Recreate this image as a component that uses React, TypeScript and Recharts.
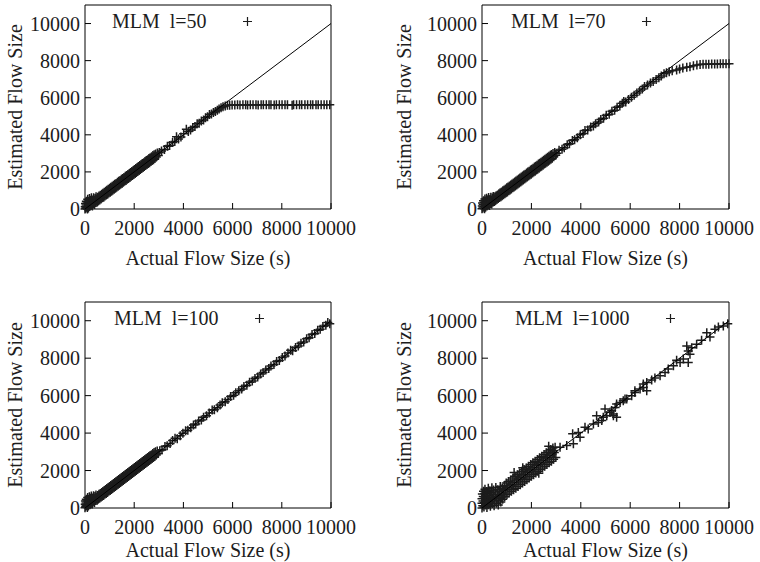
import { Legend, Scatter, ScatterChart, XAxis, YAxis } from 'recharts';

type Pt = [number, number];

const SERIF = 'Liberation Serif, Times New Roman, serif';
const INK = '#1c1c1c';

const axisTicks = [0, 2000, 4000, 6000, 8000, 10000];
const diagonal: Pt[] = [[0, 0], [10000, 10000]];

// MLM l=50: follows the diagonal, then saturates near 5600
const l50Points: Pt[] = [
  [0, 0], [10, 120], [20, 300], [30, 40], [45, 210], [55, 420], [70, 90], [85, 330], [100, 0], [110, 520],
  [125, 200], [140, 60], [150, 400], [165, 260], [180, 560], [195, 130], [210, 340], [230, 470], [245, 220], [260, 600],
  [280, 330], [300, 160], [315, 480], [335, 270], [350, 610], [370, 380], [390, 240], [410, 560], [430, 350], [450, 660],
  [470, 440], [500, 380], [520, 640], [545, 450], [570, 700], [600, 490], [625, 740], [650, 540], [680, 800], [705, 600],
  [730, 850], [760, 640], [785, 900], [810, 700], [840, 960], [865, 750], [890, 1010], [920, 800], [945, 1060], [970, 860],
  [1000, 1120], [1025, 900], [1050, 1170], [1080, 960], [1105, 1220], [1130, 1010], [1160, 1280], [1185, 1060], [1210, 1330], [1240, 1120],
  [1265, 1380], [1290, 1170], [1320, 1440], [1345, 1220], [1370, 1490], [1400, 1280], [1425, 1540], [1450, 1330], [1480, 1600], [1505, 1380],
  [1530, 1650], [1560, 1440], [1585, 1700], [1610, 1490], [1640, 1760], [1665, 1540], [1690, 1810], [1720, 1600], [1745, 1860], [1770, 1650],
  [1800, 1920], [1825, 1700], [1850, 1970], [1880, 1760], [1905, 2020], [1930, 1810], [1960, 2080], [1985, 1860], [2010, 2130], [2040, 1920],
  [2065, 2180], [2090, 1970], [2120, 2240], [2145, 2020], [2170, 2290], [2200, 2080], [2225, 2340], [2250, 2130], [2280, 2400], [2305, 2180],
  [2330, 2450], [2360, 2240], [2385, 2500], [2410, 2290], [2440, 2560], [2465, 2340], [2490, 2610], [2520, 2400], [2545, 2660], [2570, 2450],
  [2600, 2720], [2625, 2500], [2650, 2770], [2680, 2560], [2705, 2820], [2730, 2610], [2760, 2880], [2785, 2660], [2810, 2920], [2840, 2720],
  [2870, 2970], [2900, 2800], [2940, 3020], [2980, 2880],
  [3020, 3050], [3110, 3130], [3230, 3210], [3350, 3390], [3440, 3420], [3560, 3580], [3650, 3640], [3720, 3900], [3800, 3770], [3900, 3880],
  [4010, 4060], [4120, 4300], [4200, 4180], [4290, 4260], [4380, 4400], [4470, 4450], [4560, 4600], [4640, 4620], [4730, 4740], [4820, 4800],
  [4900, 4920], [4980, 4970], [5060, 5090], [5140, 5120], [5220, 5200], [5300, 5260], [5380, 5330], [5450, 5390], [5530, 5460], [5610, 5510],
  [5700, 5560], [5790, 5590], [5880, 5600], [5980, 5610], [6090, 5605], [6200, 5615], [6300, 5610], [6420, 5620], [6530, 5615], [6610, 5610],
  [6720, 5620], [6830, 5615], [6950, 5620], [7040, 5610], [7160, 5620], [7250, 5615], [7370, 5620], [7480, 5615], [7560, 5620], [7690, 5610],
  [7780, 5620], [7900, 5615], [8010, 5620], [8130, 5615], [8230, 5620], [8420, 5600], [8480, 5615], [8600, 5620], [8720, 5615], [8810, 5620],
  [8940, 5615], [9050, 5620], [9170, 5615], [9260, 5620], [9390, 5615], [9480, 5620], [9600, 5615], [9720, 5620], [9830, 5615], [9950, 5620],
];

// MLM l=70: saturates near 7830
const l70Points: Pt[] = [
  [0, 20], [12, 160], [22, 330], [35, 60], [48, 240], [60, 450], [75, 120], [90, 360], [105, 20], [118, 540],
  [130, 230], [145, 90], [158, 430], [172, 290], [185, 580], [200, 160], [218, 370], [235, 500], [250, 250], [268, 620],
  [285, 360], [305, 190], [320, 510], [340, 300], [358, 640], [375, 410], [395, 270], [415, 590], [435, 380], [455, 680],
  [475, 470], [505, 400], [525, 660], [550, 470], [575, 720], [605, 510], [630, 760], [655, 560], [685, 820], [710, 620],
  [735, 870], [765, 660], [790, 920], [815, 720], [845, 980], [870, 770], [895, 1030], [925, 820], [950, 1080], [975, 880],
  [1005, 1140], [1030, 920], [1055, 1190], [1085, 980], [1110, 1240], [1135, 1030], [1165, 1300], [1190, 1080], [1215, 1350], [1245, 1140],
  [1270, 1400], [1295, 1190], [1325, 1460], [1350, 1240], [1375, 1510], [1405, 1300], [1430, 1560], [1455, 1350], [1485, 1620], [1510, 1400],
  [1535, 1670], [1565, 1460], [1590, 1720], [1615, 1510], [1645, 1780], [1670, 1560], [1695, 1830], [1725, 1620], [1750, 1880], [1775, 1670],
  [1805, 1940], [1830, 1720], [1855, 1990], [1885, 1780], [1910, 2040], [1935, 1830], [1965, 2100], [1990, 1880], [2015, 2150], [2045, 1940],
  [2070, 2200], [2095, 1990], [2125, 2260], [2150, 2040], [2175, 2310], [2205, 2100], [2230, 2360], [2255, 2150], [2285, 2420], [2310, 2200],
  [2335, 2470], [2365, 2260], [2390, 2520], [2415, 2310], [2445, 2580], [2470, 2360], [2495, 2630], [2525, 2420], [2550, 2680], [2575, 2470],
  [2605, 2740], [2630, 2520], [2655, 2790], [2685, 2580], [2710, 2840], [2735, 2630], [2765, 2900], [2790, 2680], [2815, 2940], [2845, 2740],
  [2875, 2990], [2905, 2820], [2945, 3040], [2985, 2900],
  [3030, 3010], [3120, 3170], [3240, 3220], [3330, 3300], [3450, 3470], [3540, 3520], [3660, 3700], [3750, 3730], [3860, 3840], [3980, 4010],
  [4090, 4070], [4170, 4230], [4280, 4260], [4400, 4420], [4510, 4480], [4600, 4600], [4720, 4690], [4810, 4820], [4920, 4900], [5030, 5050],
  [5150, 5110], [5260, 5270], [5370, 5330], [5470, 5480], [5580, 5560], [5680, 5700], [5740, 5800], [5820, 5770], [5930, 5900], [6050, 6030],
  [6160, 6140], [6270, 6250], [6380, 6360], [6490, 6470], [6580, 6600], [6700, 6680], [6820, 6790], [6930, 6880], [7050, 6980], [7160, 7080],
  [7260, 7170], [7370, 7290], [7470, 7350], [7580, 7400], [7700, 7450], [7880, 7490], [8000, 7550], [8130, 7600], [8290, 7640], [8420, 7670],
  [8560, 7720], [8700, 7760], [8830, 7790], [8950, 7800], [9070, 7810], [9180, 7810], [9300, 7820], [9420, 7820], [9530, 7820], [9650, 7830],
  [9760, 7830], [9880, 7830], [10000, 7830],
];

// MLM l=100: stays on the diagonal
const l100Points: Pt[] = [
  [0, 10], [8, 200], [18, 380], [28, 90], [42, 270], [52, 470], [66, 140], [80, 380], [96, 30], [108, 560],
  [122, 250], [136, 110], [150, 450], [163, 310], [178, 600], [192, 170], [208, 390], [226, 520], [242, 270], [258, 640],
  [276, 380], [296, 210], [312, 530], [330, 320], [348, 660], [366, 430], [386, 290], [406, 610], [426, 400], [446, 690],
  [466, 490], [495, 410], [518, 670], [542, 480], [568, 730], [596, 520], [622, 770], [648, 570], [676, 830], [702, 630],
  [728, 880], [756, 670], [782, 930], [808, 730], [836, 990], [862, 780], [888, 1040], [916, 830], [942, 1090], [968, 890],
  [996, 1150], [1022, 930], [1048, 1200], [1076, 990], [1102, 1250], [1128, 1040], [1156, 1310], [1182, 1090], [1208, 1360], [1236, 1150],
  [1262, 1410], [1288, 1200], [1316, 1470], [1342, 1250], [1368, 1520], [1396, 1310], [1422, 1570], [1448, 1360], [1476, 1630], [1502, 1410],
  [1528, 1680], [1556, 1470], [1582, 1730], [1608, 1520], [1636, 1790], [1662, 1570], [1688, 1840], [1716, 1630], [1742, 1890], [1768, 1680],
  [1796, 1950], [1822, 1730], [1848, 2000], [1876, 1790], [1902, 2050], [1928, 1840], [1956, 2110], [1982, 1890], [2008, 2160], [2036, 1950],
  [2062, 2210], [2088, 2000], [2116, 2270], [2142, 2050], [2168, 2320], [2196, 2110], [2222, 2370], [2248, 2160], [2276, 2430], [2302, 2210],
  [2328, 2480], [2356, 2270], [2382, 2530], [2408, 2320], [2436, 2590], [2462, 2370], [2488, 2640], [2516, 2430], [2542, 2690], [2568, 2480],
  [2596, 2750], [2622, 2530], [2648, 2800], [2676, 2590], [2702, 2850], [2728, 2640], [2756, 2910], [2782, 2690], [2808, 2960], [2836, 2750],
  [2866, 3000], [2896, 2830], [2936, 3050], [2976, 2910],
  [3040, 3060], [3130, 3110], [3250, 3290], [3340, 3320], [3460, 3440], [3560, 3600], [3660, 3720], [3750, 3700], [3870, 3860], [3980, 3990],
  [4090, 4120], [4180, 4150], [4300, 4290], [4410, 4430], [4500, 4480], [4620, 4640], [4730, 4700], [4820, 4840], [4940, 4920], [5050, 5070],
  [5170, 5230], [5260, 5240], [5380, 5350], [5490, 5500], [5580, 5620], [5700, 5680], [5810, 5790], [5920, 5950], [6040, 6020], [6130, 6160],
  [6250, 6260], [6370, 6350], [6460, 6490], [6580, 6560], [6690, 6720], [6800, 6780], [6910, 6920], [7020, 7000], [7140, 7160], [7240, 7230],
  [7350, 7370], [7470, 7450], [7560, 7580], [7680, 7660], [7790, 7820], [7900, 7880], [8020, 8040], [8130, 8110], [8250, 8280], [8360, 8420],
  [8440, 8400], [8560, 8570], [8670, 8650], [8780, 8800], [8890, 8870], [9010, 9040], [9110, 9090], [9230, 9260], [9340, 9320], [9460, 9490],
  [9560, 9540], [9670, 9690], [9790, 9760], [9870, 9900], [9950, 9840],
];

// MLM l=1000: on the diagonal but with a much wider spread
const l1000Points: Pt[] = [
  [0, 0], [0, 250], [0, 500], [15, 750], [30, 120], [40, 380], [50, 620], [60, 900], [80, 60], [90, 280],
  [100, 520], [110, 780], [120, 1000], [140, 160], [150, 420], [165, 660], [180, 880], [200, 30], [210, 300], [225, 560],
  [240, 800], [255, 1050], [270, 180], [285, 440], [300, 680], [320, 920], [340, 90], [350, 330], [370, 580], [385, 820],
  [400, 1080], [420, 240], [440, 480], [455, 720], [470, 960], [490, 120], [510, 380], [530, 620], [545, 860], [560, 1100],
  [580, 260], [600, 500], [620, 740], [640, 980], [660, 160], [680, 420], [700, 660], [720, 900], [740, 1150], [760, 320],
  [780, 560], [800, 800], [820, 1050], [840, 470], [860, 700], [880, 940], [900, 1200],
  [920, 600], [950, 1000], [980, 1330], [1010, 720], [1040, 1080], [1070, 1420], [1100, 800], [1130, 1170], [1160, 1500], [1190, 890],
  [1220, 1260], [1250, 1600], [1280, 980], [1300, 1900], [1310, 1350], [1340, 1690], [1370, 1060], [1400, 1440], [1430, 1780], [1460, 1150],
  [1490, 1530], [1520, 1870], [1550, 1240], [1580, 1620], [1610, 1960], [1640, 1330], [1650, 2150], [1670, 1710], [1700, 2050], [1730, 1420],
  [1760, 1800], [1790, 2140], [1820, 1510], [1850, 1890], [1880, 2230], [1910, 1600], [1940, 1980], [1970, 2320], [2000, 1690], [2030, 2070],
  [2060, 2410], [2090, 1780], [2120, 2160], [2150, 2500], [2180, 1870], [2210, 2250], [2240, 2590], [2270, 1960], [2300, 1850], [2300, 2340],
  [2330, 2680], [2360, 2050], [2390, 2430], [2420, 2770], [2450, 2140], [2480, 2520], [2510, 2860], [2540, 2230], [2570, 2610], [2600, 2950],
  [2630, 2320], [2660, 2700], [2690, 3040], [2700, 3300], [2720, 2410], [2750, 2790], [2780, 3130], [2810, 2500], [2840, 2880], [2870, 3200],
  [2900, 2600], [2930, 2970], [2960, 3250], [2990, 2700],
  [2890, 3070], [3160, 3250], [3430, 3340], [3670, 3960], [3700, 3430], [3900, 4030], [3970, 3780], [4170, 4310], [4300, 4220], [4510, 4490],
  [4640, 4930], [4710, 4570], [4850, 4670], [4910, 4840], [4980, 5290], [5050, 4930], [5180, 5110], [5250, 5200], [5320, 5020], [5320, 4930],
  [5390, 5370], [5450, 5550], [5450, 4840], [5590, 5640], [5720, 5730], [5790, 5820], [5860, 5820], [6060, 6000], [6190, 6170], [6190, 6260],
  [6400, 6350], [6530, 6440], [6530, 6620], [6670, 6260], [6670, 6700], [6870, 6830], [7000, 6940], [7210, 7060], [7410, 7230], [7540, 7420],
  [7750, 7590], [7880, 7890], [8020, 7770], [8150, 7950], [8290, 8650], [8350, 8390], [8350, 7770], [8420, 8210], [8490, 8560], [8690, 8750],
  [8890, 8960], [9100, 9360], [9230, 9130], [9430, 9540], [9570, 9670], [9770, 9720], [9950, 9840],
];

type PanelSpec = {
  title: string;
  points: Pt[];
  left: number;
  top: number;
  height: number;
  marginTop: number;
  marginRight: number;
  yAxisWidth: number;
  xAxisHeight: number;
  yTitleX: number;
  xTitleGap: number;
  keyLeft: number;
  keyTop: number;
};

const panels: PanelSpec[] = [
  { title: 'MLM  l=50', points: l50Points, left: 0, top: 0, height: 269, marginTop: 4, marginRight: 48, yAxisWidth: 85, xAxisHeight: 60, yTitleX: 15, xTitleGap: 49, keyLeft: 112, keyTop: 11 },
  { title: 'MLM  l=70', points: l70Points, left: 380, top: 0, height: 269, marginTop: 4, marginRight: 30, yAxisWidth: 102, xAxisHeight: 60, yTitleX: 24, xTitleGap: 49, keyLeft: 131, keyTop: 11 },
  { title: 'MLM  l=100', points: l100Points, left: 0, top: 280, height: 282, marginTop: 21, marginRight: 48, yAxisWidth: 85, xAxisHeight: 54, yTitleX: 15, xTitleGap: 42, keyLeft: 114, keyTop: 28 },
  { title: 'MLM  l=1000', points: l1000Points, left: 380, top: 280, height: 282, marginTop: 21, marginRight: 30, yAxisWidth: 102, xAxisHeight: 54, yTitleX: 24, xTitleGap: 42, keyLeft: 135, keyTop: 28 },
];

const tickStyle = { fill: INK, fontSize: 20 };

function PlusMark(props: any) {
  const { cx, cy } = props;
  if (cx == null || cy == null) return <g />;
  return <path d={`M${cx - 4.5},${cy}h9M${cx},${cy - 4.5}v9`} stroke={INK} strokeWidth={1.5} fill="none" />;
}

const NoMark = () => <g />;

function FlowPanel({ spec }: { spec: PanelSpec }) {
  const data = spec.points.map(([x, y]) => ({ x, y }));
  const ideal = diagonal.map(([x, y]) => ({ x, y }));

  const xTitle = (props: any) => {
    const vb = props.viewBox || {};
    return (
      <text x={vb.x + vb.width / 2} y={vb.y + spec.xTitleGap} textAnchor="middle" dominantBaseline="central"
        fill={INK} fontSize={20}>
        Actual Flow Size (s)
      </text>
    );
  };
  const yTitle = (props: any) => {
    const vb = props.viewBox || {};
    const cy = vb.y + vb.height / 2;
    return (
      <text x={spec.yTitleX} y={cy} transform={`rotate(-90, ${spec.yTitleX}, ${cy})`} textAnchor="middle"
        dominantBaseline="central" fill={INK} fontSize={20}>
        Estimated Flow Size
      </text>
    );
  };
  const renderKey = () => (
    <div style={{ display: 'flex', alignItems: 'center', fontSize: 20, lineHeight: '20px', color: INK, whiteSpace: 'pre' }}>
      <span>{spec.title}</span>
      <svg width={9} height={9} style={{ marginLeft: 36 }}>
        <path d="M0,4.5h9M4.5,0v9" stroke={INK} strokeWidth={1.2} />
      </svg>
    </div>
  );

  return (
    <div style={{ position: 'absolute', left: spec.left, top: spec.top }}>
      <ScatterChart width={380} height={spec.height}
        margin={{ top: spec.marginTop, right: spec.marginRight, bottom: 0, left: 0 }}>
        <XAxis xAxisId={0} type="number" dataKey="x" domain={[0, 10000]} ticks={axisTicks} interval={0}
          tickSize={-6} tickMargin={18} height={spec.xAxisHeight} stroke="#000" tick={tickStyle}
          label={{ content: xTitle }} />
        <XAxis xAxisId="top" orientation="top" type="number" dataKey="x" domain={[0, 10000]} ticks={axisTicks}
          tick={false} tickSize={-6} height={1} stroke="#000" />
        <YAxis yAxisId={0} type="number" dataKey="y" domain={[0, 11000]} ticks={axisTicks} interval={0}
          tickSize={-6} tickMargin={11} width={spec.yAxisWidth} stroke="#000" tick={tickStyle}
          label={{ content: yTitle }} />
        <YAxis yAxisId="right" orientation="right" type="number" dataKey="y" domain={[0, 11000]} ticks={axisTicks}
          tick={false} tickSize={-6} width={1} stroke="#000" />
        <Scatter xAxisId={0} yAxisId={0} data={data} shape={PlusMark} isAnimationActive={false} />
        <Scatter xAxisId={0} yAxisId={0} data={ideal} shape={NoMark} line={{ stroke: '#000', strokeWidth: 1 }}
          isAnimationActive={false} />
        <Legend content={renderKey} layout="vertical" align="center" verticalAlign="middle"
          wrapperStyle={{ left: spec.keyLeft, top: spec.keyTop, width: 'auto' }} />
      </ScatterChart>
    </div>
  );
}

export default function App() {
  return (
    <div style={{ position: 'absolute', left: 0, top: 0, width: 760, height: 562, background: '#fff', fontFamily: SERIF }}>
      {panels.map((spec) => (
        <FlowPanel key={spec.title} spec={spec} />
      ))}
    </div>
  );
}
